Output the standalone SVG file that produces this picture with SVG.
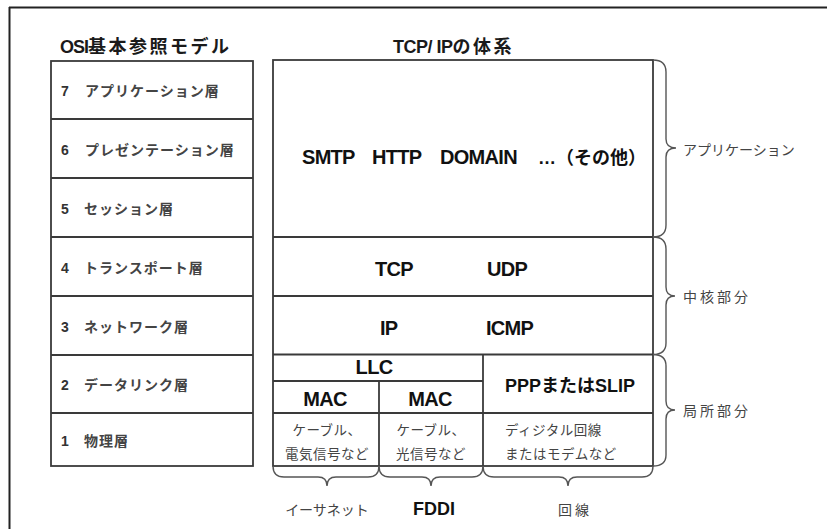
<svg xmlns="http://www.w3.org/2000/svg" width="827" height="529" viewBox="0 0 827 529">
<style>
.frame{stroke:#222;stroke-width:2;fill:none}
.box{stroke:#3a3a3a;stroke-width:1.8;fill:none}
.brace{stroke:#555;stroke-width:1.4;fill:none}
.title{font-family:"Liberation Sans","Noto Sans CJK JP",sans-serif;font-weight:bold;font-size:18px;fill:#1a1a1a}
.row{font-family:"Noto Sans CJK JP",sans-serif;font-weight:bold;font-size:14px;fill:#444;letter-spacing:1px}
.num{font-family:"Liberation Sans",sans-serif;font-weight:bold;font-size:14px;fill:#333}
.proto{font-family:"Liberation Sans","Noto Sans CJK JP",sans-serif;font-weight:bold;font-size:20px;fill:#111;letter-spacing:-0.7px}
.proto2{font-family:"Liberation Sans","Noto Sans CJK JP",sans-serif;font-weight:bold;font-size:18px;fill:#111}
.small{font-family:"Noto Sans CJK JP",sans-serif;font-size:13.5px;fill:#444;letter-spacing:0.5px}
.lbl{font-family:"Noto Sans CJK JP",sans-serif;font-size:14px;fill:#444}
</style>
<rect width="827" height="529" fill="#fff"/>
<g id="frame">
<line class="frame" x1="9" y1="7.5" x2="827" y2="7.5"/>
<line class="frame" x1="9.5" y1="7" x2="9.5" y2="529"/>
</g>
<g id="osi-title"><text class="title" x="60" y="53"><tspan letter-spacing="-1">OSI</tspan><tspan letter-spacing="2.5">基本参照モデル</tspan></text></g>
<g id="tcpip-title"><text class="title" x="393" y="53"><tspan letter-spacing="-0.5">TCP/ IP</tspan><tspan letter-spacing="2.5">の体系</tspan></text></g>
<g id="osi-model">
<rect class="box" x="51" y="61" width="202" height="405"/>
<line class="box" x1="51" y1="119" x2="253" y2="119"/>
<line class="box" x1="51" y1="178" x2="253" y2="178"/>
<line class="box" x1="51" y1="237" x2="253" y2="237"/>
<line class="box" x1="51" y1="296" x2="253" y2="296"/>
<line class="box" x1="51" y1="355" x2="253" y2="355"/>
<line class="box" x1="51" y1="413" x2="253" y2="413"/>
</g>
<g id="osi-7"><text class="num" x="61" y="96">7</text><text class="row" x="85" y="96">アプリケーション層</text></g>
<g id="osi-6"><text class="num" x="61" y="155">6</text><text class="row" x="85" y="155">プレゼンテーション層</text></g>
<g id="osi-5"><text class="num" x="61" y="214">5</text><text class="row" x="84" y="214">セッション層</text></g>
<g id="osi-4"><text class="num" x="61" y="273">4</text><text class="row" x="84" y="273">トランスポート層</text></g>
<g id="osi-3"><text class="num" x="61" y="332">3</text><text class="row" x="84" y="332">ネットワーク層</text></g>
<g id="osi-2"><text class="num" x="61" y="390">2</text><text class="row" x="84" y="390">データリンク層</text></g>
<g id="osi-1"><text class="num" x="61" y="446">1</text><text class="row" x="84" y="446">物理層</text></g>
<g id="tcpip-model">
<rect class="box" x="273" y="60" width="380" height="406"/>
<line class="box" x1="273" y1="237" x2="653" y2="237"/>
<line class="box" x1="273" y1="296" x2="653" y2="296"/>
<line class="box" x1="273" y1="354.5" x2="653" y2="354.5"/>
<line class="box" x1="273" y1="381" x2="483" y2="381"/>
<line class="box" x1="273" y1="413" x2="653" y2="413"/>
<line class="box" x1="379" y1="381" x2="379" y2="466"/>
<line class="box" x1="483" y1="354.5" x2="483" y2="466"/>
</g>
<g id="application">
<text class="proto" x="302" y="164">SMTP</text>
<text class="proto" x="372" y="164">HTTP</text>
<text class="proto" x="440" y="164">DOMAIN</text>
<text class="proto2" font-family="Noto Sans CJK JP, sans-serif" x="538" y="164">…（その他）</text>
</g>
<g id="transport"><text class="proto" x="375" y="276">TCP</text><text class="proto" x="487" y="276">UDP</text></g>
<g id="internet"><text class="proto" x="380" y="335">IP</text><text class="proto" x="486" y="335">ICMP</text></g>
<g id="llc"><text class="proto" x="374" y="374" text-anchor="middle">LLC</text></g>
<g id="mac-ethernet"><text class="proto" x="325" y="406" text-anchor="middle">MAC</text></g>
<g id="mac-fddi"><text class="proto" x="430" y="406" text-anchor="middle">MAC</text></g>
<g id="ppp-slip"><text class="proto2" x="570" y="392" text-anchor="middle">PPPまたはSLIP</text></g>
<g id="phys-ethernet"><text class="small" x="327" y="435" text-anchor="middle">ケーブル、</text><text class="small" x="327" y="459" text-anchor="middle">電気信号など</text></g>
<g id="phys-fddi"><text class="small" x="431" y="435" text-anchor="middle">ケーブル、</text><text class="small" x="431" y="459" text-anchor="middle">光信号など</text></g>
<g id="phys-line"><text class="small" x="505" y="435" letter-spacing="2">ディジタル回線</text><text class="small" x="505" y="459" letter-spacing="2">またはモデムなど</text></g>
<g id="connectors">
<path class="brace" d="M653,60 Q666,60 666,72 L666,139 Q666,148 676,148 Q666,148 666,157 L666,225 Q666,237 653,237"/>
<path class="brace" d="M653,237 Q666,237 666,249 L666,287 Q666,296 675,296 Q666,296 666,305 L666,343 Q666,354.5 653,354.5"/>
<path class="brace" d="M653,354.5 Q666,354.5 666,366 L666,401 Q666,410 675,410 Q666,410 666,419 L666,455 Q666,466 653,466"/>
<path class="brace" d="M273,466 Q273,477 284,477 L318,477 Q327,477 327,486 Q327,477 336,477 L368,477 Q379,477 379,466"/>
<path class="brace" d="M379,466 Q379,477 390,477 L422,477 Q431,477 431,486 Q431,477 440,477 L472,477 Q483,477 483,466"/>
<path class="brace" d="M483,466 Q483,477 494,477 L559,477 Q568,477 568,486 Q568,477 577,477 L642,477 Q653,477 653,466"/>
</g>
<g id="label-application"><text class="lbl" x="683" y="155">アプリケーション</text></g>
<g id="label-core"><text class="lbl" x="683" y="302" letter-spacing="3">中核部分</text></g>
<g id="label-local"><text class="lbl" x="683" y="416" letter-spacing="3">局所部分</text></g>
<g id="label-ethernet"><text class="lbl" x="327" y="515" text-anchor="middle">イーサネット</text></g>
<g id="label-fddi"><text class="proto2" font-size="15" x="434" y="515" text-anchor="middle">FDDI</text></g>
<g id="label-line"><text class="lbl" x="575" y="515" text-anchor="middle" letter-spacing="3">回線</text></g>
</svg>
